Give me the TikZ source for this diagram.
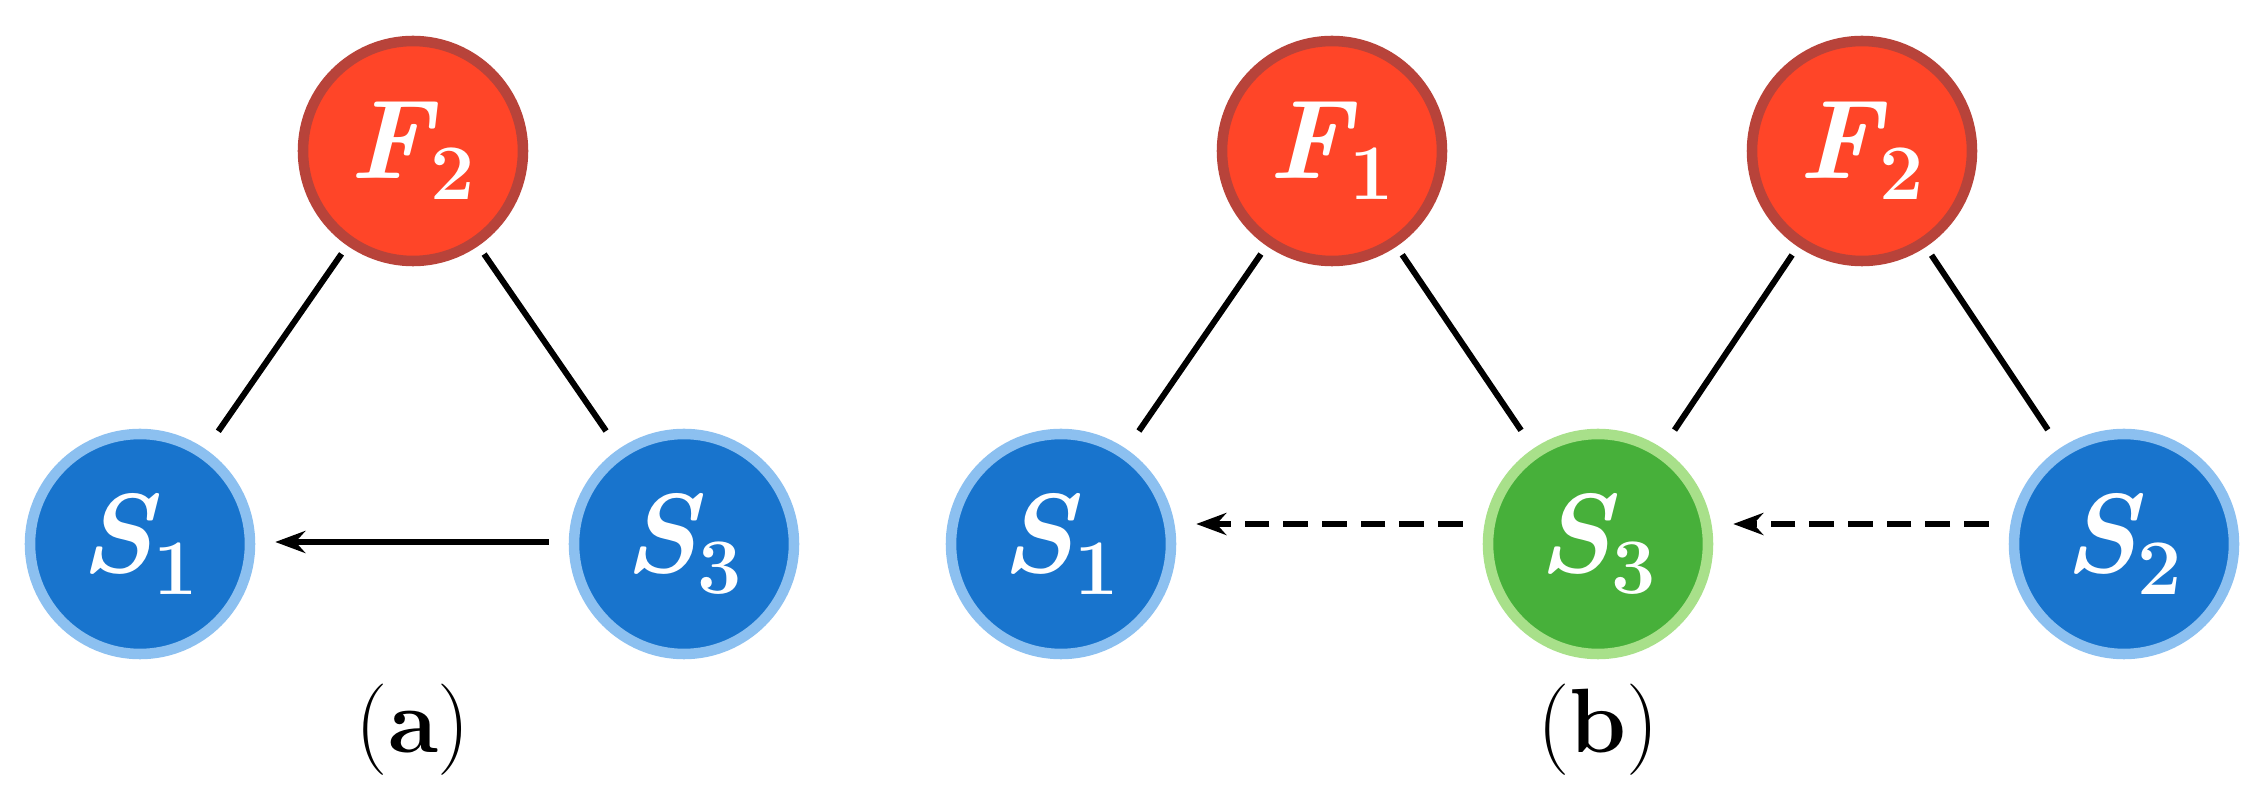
\documentclass[tikz,border=0pt]{standalone}
\usetikzlibrary{arrows.meta}
\definecolor{rd}{HTML}{FF4528}
\definecolor{rdb}{HTML}{B8433A}
\definecolor{bl}{HTML}{1874CD}
\definecolor{blb}{HTML}{8CC0F0}
\definecolor{gr}{HTML}{47B03A}
\definecolor{grb}{HTML}{A8E08A}
\tikzset{
 nd/.style={circle,minimum size=2.2cm,inner sep=0pt,text=white,font=\fontsize{32}{36}\selectfont\bfseries\itshape},
 red/.style={nd,fill=rd,draw=rdb,line width=3pt},
 blue/.style={nd,fill=bl,draw=blb,line width=3pt},
 green/.style={nd,fill=gr,draw=grb,line width=3pt},
 ln/.style={line width=1.7pt,shorten <=0.1cm,shorten >=0.22cm},
 ar/.style={line width=1.7pt,-{Stealth[length=0.3cm,width=0.22cm]},shorten <=0.2cm,shorten >=0.2cm},
 dsh/.style={dash pattern=on 7pt off 4pt},
 lab/.style={font=\fontsize{26}{30}\selectfont}
}
\newcommand{\lbl}[2]{#1\textsubscript{\upshape #2}}
\begin{document}
\begin{tikzpicture}
\useasboundingbox (0,0) rectangle (22.59,8.05);
\node[red] (aF2) at (4.13,6.54) {\lbl{F}{2}};
\node[blue] (aS1) at (1.40,2.61) {\lbl{S}{1}};
\node[blue] (aS3) at (6.84,2.61) {\lbl{S}{3}};
\draw[ln] (aF2) -- (aS1);
\draw[ln] (aF2) -- (aS3);
\draw[ar] ([yshift=0.02cm]aS3.west) -- ([yshift=0.02cm]aS1.east);
\node[lab] (la) at (4.13,0.75) {(\textbf{a})};
\node[red] (bF1) at (13.32,6.54) {\lbl{F}{1}};
\node[red] (bF2) at (18.62,6.54) {\lbl{F}{2}};
\node[blue] (bS1) at (10.61,2.61) {\lbl{S}{1}};
\node[green] (bS3) at (15.98,2.61) {\lbl{S}{3}};
\node[blue] (bS2) at (21.24,2.61) {\lbl{S}{2}};
\draw[ln] (bF1) -- (bS1);
\draw[ln] (bF1) -- (bS3);
\draw[ln] (bF2) -- (bS3);
\draw[ln] (bF2) -- (bS2);
\draw[ar,dsh] ([yshift=0.2cm]bS3.west) -- ([yshift=0.2cm]bS1.east);
\draw[ar,dsh] ([yshift=0.2cm]bS2.west) -- ([yshift=0.2cm]bS3.east);
\node[lab] (lb) at (15.98,0.75) {(\textbf{b})};
\end{tikzpicture}
\end{document}
